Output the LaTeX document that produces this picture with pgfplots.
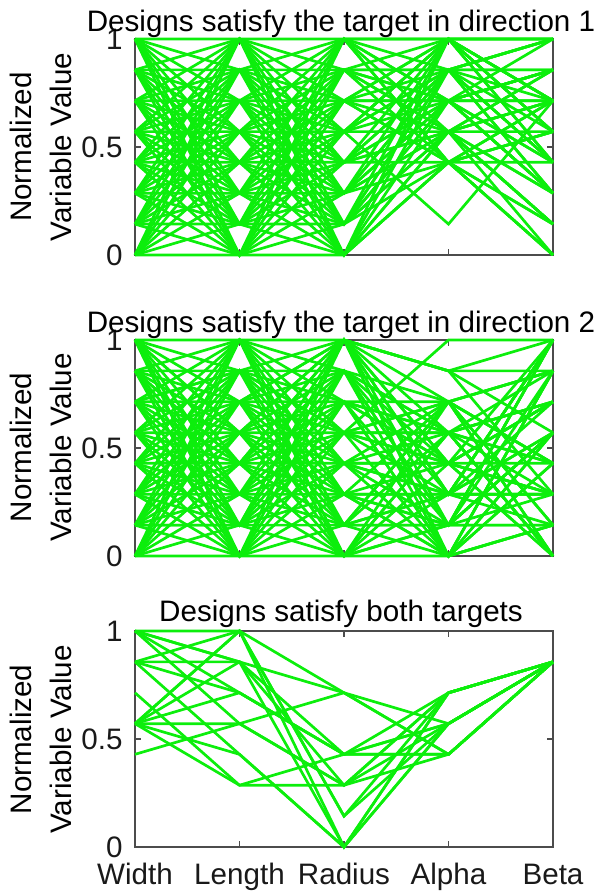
\documentclass[border=0pt]{standalone}
\usepackage{fontspec}
\setmainfont{Liberation Sans}
\usepackage{pgfplots}
\pgfplotsset{compat=1.18}
\definecolor{lg}{RGB}{12,238,12}
\pgfplotsset{pc/.style={
  width=209pt, height=108pt, scale only axis,
  xmin=1, xmax=5, ymin=0, ymax=1,
  xtick={1,2,3,4,5}, xticklabels={},
  ytick={0,0.5,1}, yticklabels={0,0.5,1},
  tick align=inside, tick pos=both, major tick length=3pt,
  axis line style={black!70, line width=0.6pt},
  every tick/.style={black!70, line width=0.6pt},
  tick label style={font=\fontsize{14.8}{17}\selectfont, text=black!90},
  xticklabel style={anchor=base, yshift=-19pt, inner sep=0pt},
  yticklabel style={anchor=east, inner sep=0pt, xshift=-6pt},
  every axis title shift=0pt,
  title style={font=\fontsize{14.8}{17}\selectfont, anchor=base, at={(0.5,1)}, yshift=3.5pt, xshift=-1.5pt, inner sep=0pt},
  clip=false,
  every axis plot post/.append style={draw=lg, line width=1.35pt, mark=none, solid},
  /pgf/number format/assume math mode=true,
}}
\begin{document}
\begin{tikzpicture}
\useasboundingbox (0,0) rectangle (300pt,446pt);
% ---------------- Panel 1 ----------------
\begin{axis}[pc, at={(67.5pt,318.5pt)}, anchor=south west,
  title={Designs satisfy the target in direction 1}]
\addplot coordinates {(1,0)(2,0)(3,0)(4,.429)(5,.429)};
\addplot coordinates {(1,.143)(2,0)(3,.143)(4,.571)(5,0)};
\addplot coordinates {(1,.286)(2,0)(3,.286)(4,.714)(5,.714)};
\addplot coordinates {(1,.429)(2,0)(3,.429)(4,.857)(5,.286)};
\addplot coordinates {(1,.571)(2,0)(3,.571)(4,1)(5,1)};
\addplot coordinates {(1,.714)(2,0)(3,.714)(4,.429)(5,.571)};
\addplot coordinates {(1,.857)(2,0)(3,.857)(4,.571)(5,.143)};
\addplot coordinates {(1,1)(2,0)(3,1)(4,.714)(5,.857)};
\addplot coordinates {(1,0)(2,.143)(3,.429)(4,.571)(5,.571)};
\addplot coordinates {(1,.143)(2,.143)(3,.571)(4,.714)(5,.857)};
\addplot coordinates {(1,.286)(2,.143)(3,.714)(4,.857)(5,.857)};
\addplot coordinates {(1,.429)(2,.143)(3,.857)(4,1)(5,.429)};
\addplot coordinates {(1,.571)(2,.143)(3,1)(4,.429)(5,0)};
\addplot coordinates {(1,.714)(2,.143)(3,0)(4,.571)(5,.714)};
\addplot coordinates {(1,.857)(2,.143)(3,.143)(4,.714)(5,.286)};
\addplot coordinates {(1,1)(2,.143)(3,.286)(4,.857)(5,1)};
\addplot coordinates {(1,0)(2,.286)(3,.857)(4,.714)(5,.714)};
\addplot coordinates {(1,.143)(2,.286)(3,1)(4,.857)(5,.286)};
\addplot coordinates {(1,.286)(2,.286)(3,0)(4,1)(5,1)};
\addplot coordinates {(1,.429)(2,.286)(3,.143)(4,.429)(5,.571)};
\addplot coordinates {(1,.571)(2,.286)(3,.286)(4,.571)(5,.143)};
\addplot coordinates {(1,.714)(2,.286)(3,.429)(4,.714)(5,.857)};
\addplot coordinates {(1,.857)(2,.286)(3,.571)(4,.857)(5,.429)};
\addplot coordinates {(1,1)(2,.286)(3,.714)(4,1)(5,.714)};
\addplot coordinates {(1,0)(2,.429)(3,.143)(4,.857)(5,.857)};
\addplot coordinates {(1,.143)(2,.429)(3,.286)(4,1)(5,.429)};
\addplot coordinates {(1,.286)(2,.429)(3,.429)(4,.429)(5,0)};
\addplot coordinates {(1,.429)(2,.429)(3,.571)(4,.571)(5,.714)};
\addplot coordinates {(1,.571)(2,.429)(3,.714)(4,.714)(5,.286)};
\addplot coordinates {(1,.714)(2,.429)(3,.857)(4,.857)(5,1)};
\addplot coordinates {(1,.857)(2,.429)(3,1)(4,1)(5,.571)};
\addplot coordinates {(1,1)(2,.429)(3,0)(4,.429)(5,.143)};
\addplot coordinates {(1,0)(2,.571)(3,.571)(4,1)(5,1)};
\addplot coordinates {(1,.143)(2,.571)(3,.714)(4,.429)(5,.571)};
\addplot coordinates {(1,.286)(2,.571)(3,.857)(4,.571)(5,.143)};
\addplot coordinates {(1,.429)(2,.571)(3,1)(4,.714)(5,.857)};
\addplot coordinates {(1,.571)(2,.571)(3,0)(4,.857)(5,.429)};
\addplot coordinates {(1,.714)(2,.571)(3,.143)(4,1)(5,.714)};
\addplot coordinates {(1,.857)(2,.571)(3,.286)(4,.429)(5,.714)};
\addplot coordinates {(1,1)(2,.571)(3,.429)(4,.571)(5,.286)};
\addplot coordinates {(1,0)(2,.714)(3,1)(4,.429)(5,0)};
\addplot coordinates {(1,.143)(2,.714)(3,0)(4,.571)(5,.714)};
\addplot coordinates {(1,.286)(2,.714)(3,.143)(4,.714)(5,.286)};
\addplot coordinates {(1,.429)(2,.714)(3,.286)(4,.857)(5,1)};
\addplot coordinates {(1,.571)(2,.714)(3,.429)(4,1)(5,.571)};
\addplot coordinates {(1,.714)(2,.714)(3,.571)(4,.143)(5,.714)};
\addplot coordinates {(1,.857)(2,.714)(3,.714)(4,.571)(5,.857)};
\addplot coordinates {(1,1)(2,.714)(3,.857)(4,.714)(5,.429)};
\addplot coordinates {(1,0)(2,.857)(3,.286)(4,.571)(5,.143)};
\addplot coordinates {(1,.143)(2,.857)(3,.429)(4,.714)(5,.857)};
\addplot coordinates {(1,.286)(2,.857)(3,.571)(4,.857)(5,.429)};
\addplot coordinates {(1,.429)(2,.857)(3,.714)(4,1)(5,.714)};
\addplot coordinates {(1,.571)(2,.857)(3,.857)(4,.429)(5,.714)};
\addplot coordinates {(1,.714)(2,.857)(3,1)(4,.571)(5,.286)};
\addplot coordinates {(1,.857)(2,.857)(3,0)(4,.714)(5,1)};
\addplot coordinates {(1,1)(2,.857)(3,.143)(4,.857)(5,.571)};
\addplot coordinates {(1,0)(2,1)(3,.714)(4,.714)(5,.286)};
\addplot coordinates {(1,.143)(2,1)(3,.857)(4,.857)(5,1)};
\addplot coordinates {(1,.286)(2,1)(3,1)(4,1)(5,.571)};
\addplot coordinates {(1,.429)(2,1)(3,0)(4,.429)(5,.143)};
\addplot coordinates {(1,.571)(2,1)(3,.143)(4,.571)(5,.857)};
\addplot coordinates {(1,.714)(2,1)(3,.286)(4,.714)(5,.429)};
\addplot coordinates {(1,.857)(2,1)(3,.429)(4,.857)(5,.714)};
\addplot coordinates {(1,1)(2,1)(3,.571)(4,1)(5,.714)};
\end{axis}
% ---------------- Panel 2 ----------------
\begin{axis}[pc, at={(67.5pt,168pt)}, anchor=south west,
  title={Designs satisfy the target in direction 2}]
\addplot coordinates {(1,0)(2,0)(3,.286)(4,.143)(5,.571)};
\addplot coordinates {(1,.143)(2,0)(3,.429)(4,.286)(5,1)};
\addplot coordinates {(1,.286)(2,0)(3,.571)(4,.429)(5,.286)};
\addplot coordinates {(1,.429)(2,0)(3,.714)(4,.571)(5,.714)};
\addplot coordinates {(1,.571)(2,0)(3,.857)(4,.714)(5,0)};
\addplot coordinates {(1,.714)(2,0)(3,1)(4,0)(5,.429)};
\addplot coordinates {(1,.857)(2,0)(3,0)(4,.143)(5,.857)};
\addplot coordinates {(1,1)(2,0)(3,.143)(4,.286)(5,.143)};
\addplot coordinates {(1,0)(2,.143)(3,1)(4,.429)(5,.714)};
\addplot coordinates {(1,.143)(2,.143)(3,0)(4,.571)(5,0)};
\addplot coordinates {(1,.286)(2,.143)(3,.143)(4,.714)(5,.429)};
\addplot coordinates {(1,.429)(2,.143)(3,.286)(4,0)(5,.857)};
\addplot coordinates {(1,.571)(2,.143)(3,.429)(4,.143)(5,.143)};
\addplot coordinates {(1,.714)(2,.143)(3,.571)(4,.286)(5,.571)};
\addplot coordinates {(1,.857)(2,.143)(3,.714)(4,.429)(5,1)};
\addplot coordinates {(1,1)(2,.143)(3,.857)(4,.571)(5,.286)};
\addplot coordinates {(1,0)(2,.286)(3,.571)(4,.714)(5,.857)};
\addplot coordinates {(1,.143)(2,.286)(3,.714)(4,0)(5,.143)};
\addplot coordinates {(1,.286)(2,.286)(3,.857)(4,.143)(5,.571)};
\addplot coordinates {(1,.429)(2,.286)(3,1)(4,.286)(5,1)};
\addplot coordinates {(1,.571)(2,.286)(3,0)(4,.429)(5,.286)};
\addplot coordinates {(1,.714)(2,.286)(3,.143)(4,.571)(5,.714)};
\addplot coordinates {(1,.857)(2,.286)(3,.286)(4,.714)(5,0)};
\addplot coordinates {(1,1)(2,.286)(3,.429)(4,0)(5,.429)};
\addplot coordinates {(1,0)(2,.429)(3,.143)(4,.143)(5,1)};
\addplot coordinates {(1,.143)(2,.429)(3,.286)(4,.286)(5,.286)};
\addplot coordinates {(1,.286)(2,.429)(3,.429)(4,.429)(5,.714)};
\addplot coordinates {(1,.429)(2,.429)(3,.571)(4,.571)(5,0)};
\addplot coordinates {(1,.571)(2,.429)(3,.714)(4,.714)(5,.429)};
\addplot coordinates {(1,.714)(2,.429)(3,.857)(4,0)(5,.857)};
\addplot coordinates {(1,.857)(2,.429)(3,1)(4,.143)(5,.143)};
\addplot coordinates {(1,1)(2,.429)(3,0)(4,.286)(5,.571)};
\addplot coordinates {(1,0)(2,.571)(3,.857)(4,.429)(5,0)};
\addplot coordinates {(1,.143)(2,.571)(3,1)(4,.571)(5,.429)};
\addplot coordinates {(1,.286)(2,.571)(3,0)(4,.714)(5,.857)};
\addplot coordinates {(1,.429)(2,.571)(3,.143)(4,0)(5,.143)};
\addplot coordinates {(1,.571)(2,.571)(3,.286)(4,.143)(5,.571)};
\addplot coordinates {(1,.714)(2,.571)(3,.429)(4,.286)(5,1)};
\addplot coordinates {(1,.857)(2,.571)(3,.571)(4,.429)(5,.286)};
\addplot coordinates {(1,1)(2,.571)(3,.714)(4,.571)(5,.714)};
\addplot coordinates {(1,0)(2,.714)(3,.429)(4,.714)(5,.143)};
\addplot coordinates {(1,.143)(2,.714)(3,.571)(4,0)(5,.571)};
\addplot coordinates {(1,.286)(2,.714)(3,.714)(4,.143)(5,1)};
\addplot coordinates {(1,.429)(2,.714)(3,.857)(4,.286)(5,.286)};
\addplot coordinates {(1,.571)(2,.714)(3,1)(4,.429)(5,.714)};
\addplot coordinates {(1,.714)(2,.714)(3,0)(4,.571)(5,0)};
\addplot coordinates {(1,.857)(2,.714)(3,.143)(4,.714)(5,.429)};
\addplot coordinates {(1,1)(2,.714)(3,.286)(4,0)(5,.857)};
\addplot coordinates {(1,0)(2,.857)(3,0)(4,.143)(5,.286)};
\addplot coordinates {(1,.143)(2,.857)(3,.143)(4,.286)(5,.714)};
\addplot coordinates {(1,.286)(2,.857)(3,.286)(4,.429)(5,0)};
\addplot coordinates {(1,.429)(2,.857)(3,.429)(4,.571)(5,.429)};
\addplot coordinates {(1,.571)(2,.857)(3,.571)(4,.714)(5,.857)};
\addplot coordinates {(1,.714)(2,.857)(3,.714)(4,0)(5,.143)};
\addplot coordinates {(1,.857)(2,.857)(3,.857)(4,.143)(5,.571)};
\addplot coordinates {(1,1)(2,.857)(3,1)(4,.286)(5,1)};
\addplot coordinates {(1,0)(2,1)(3,.714)(4,.429)(5,.429)};
\addplot coordinates {(1,.143)(2,1)(3,.857)(4,.571)(5,.857)};
\addplot coordinates {(1,.286)(2,1)(3,1)(4,.714)(5,.143)};
\addplot coordinates {(1,.429)(2,1)(3,0)(4,0)(5,.571)};
\addplot coordinates {(1,.571)(2,1)(3,.143)(4,.143)(5,1)};
\addplot coordinates {(1,.714)(2,1)(3,.286)(4,.286)(5,.286)};
\addplot coordinates {(1,.857)(2,1)(3,.429)(4,.429)(5,.714)};
\addplot coordinates {(1,1)(2,1)(3,.571)(4,.571)(5,0)};
\addplot coordinates {(1,.714)(2,.857)(3,.571)(4,1)(5,1)};
\addplot coordinates {(1,.286)(2,.714)(3,1)(4,.857)(5,.857)};
\addplot coordinates {(1,.857)(2,.429)(3,1)(4,.857)(5,.571)};
\addplot coordinates {(1,.143)(2,.143)(3,1)(4,.857)(5,.286)};
\addplot coordinates {(1,1)(2,.571)(3,1)(4,.857)(5,1)};
\end{axis}
% ---------------- Panel 3 ----------------
\begin{axis}[pc, at={(67.5pt,22.5pt)}, anchor=south west,
  xticklabels={Width,Length,Radius,Alpha,Beta},
  title style={yshift=1pt},
  title={Designs satisfy both targets}]
\addplot coordinates {(1,1)(2,1)(3,.143)(4,.714)(5,.857)};
\addplot coordinates {(1,1)(2,.857)(3,0)(4,.571)(5,.857)};
\addplot coordinates {(1,1)(2,.714)(3,.429)(4,.571)(5,.857)};
\addplot coordinates {(1,1)(2,.857)(3,.714)(4,.429)(5,.857)};
\addplot coordinates {(1,.857)(2,.857)(3,.286)(4,.714)(5,.857)};
\addplot coordinates {(1,.857)(2,1)(3,0)(4,.714)(5,.857)};
\addplot coordinates {(1,.857)(2,.429)(3,0)(4,.571)(5,.857)};
\addplot coordinates {(1,.857)(2,.714)(3,.429)(4,.429)(5,.857)};
\addplot coordinates {(1,.571)(2,1)(3,.714)(4,.571)(5,.857)};
\addplot coordinates {(1,.571)(2,.857)(3,.429)(4,.714)(5,.857)};
\addplot coordinates {(1,.571)(2,.571)(3,.286)(4,.571)(5,.857)};
\addplot coordinates {(1,.571)(2,.429)(3,0)(4,.714)(5,.857)};
\addplot coordinates {(1,.571)(2,.286)(3,.286)(4,.714)(5,.857)};
\addplot coordinates {(1,.571)(2,.714)(3,.429)(4,.429)(5,.857)};
\addplot coordinates {(1,.714)(2,.286)(3,.429)(4,.571)(5,.857)};
\addplot coordinates {(1,.429)(2,.571)(3,.714)(4,.429)(5,.857)};
\addplot coordinates {(1,.571)(2,1)(3,.143)(4,.571)(5,.857)};
\addplot coordinates {(1,1)(2,.571)(3,.286)(4,.429)(5,.857)};
\end{axis}
% ---------------- y labels ----------------
\foreach \yc in {372.5pt,222.25pt,76.25pt}{
  \node[rotate=90, anchor=south, align=center, inner sep=0pt,
        font=\fontsize{14.8}{20}\selectfont] at (36pt,\yc) {Normalized\\Variable Value};
}
\end{tikzpicture}
\end{document}
